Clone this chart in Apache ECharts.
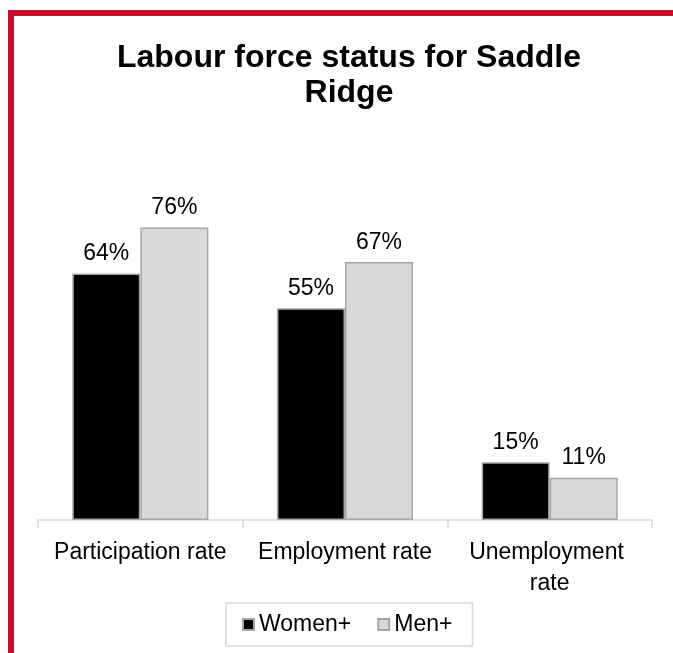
<!DOCTYPE html>
<html>
<head>
<meta charset="utf-8">
<script src="https://cdn.jsdelivr.net/npm/echarts@6/dist/echarts.min.js"></script>
<style>
html,body{margin:0;padding:0;background:#fff;}
#chart{width:673px;height:653px;}
</style>
</head>
<body>
<div id="chart"></div>
<script>
const titleText = 'Labour force status for Saddle\nRidge';
const categories = ['Participation rate', 'Employment rate', 'Unemployment rate'];
const seriesNames = ['Women+', 'Men+'];
const women = [64, 55, 15];
const men = [76, 67, 11];

const chart = echarts.init(document.getElementById('chart'), null, {renderer: 'canvas'});
const font = 'Liberation Sans, Arial, sans-serif';
const barBorder = '#a6a6a6';
const labelStyle = {
  show: true, position: 'top', distance: 8,
  formatter: p => p.value + '%',
  fontFamily: font, fontSize: 23, color: '#000'
};
chart.setOption({
  animation: false,
  backgroundColor: '#fff',
  title: {
    text: titleText,
    left: 344, top: 36, textAlign: 'center',
    textStyle: {fontFamily: font, fontSize: 32, fontWeight: 'bold', color: '#000', lineHeight: 35}
  },
  graphic: [
    {type: 'rect', shape: {x: 8, y: 10, width: 700, height: 6}, style: {fill: '#c8102e'}, silent: true},
    {type: 'rect', shape: {x: 8, y: 10, width: 6, height: 700}, style: {fill: '#c8102e'}, silent: true}
  ],
  legend: {
    data: seriesNames,
    left: 226, top: 603,
    padding: [10, 20, 10, 16],
    borderColor: '#d9d9d9', borderWidth: 1.5,
    icon: 'rect', itemWidth: 11, itemHeight: 11, itemGap: 26,
    textStyle: {fontFamily: font, fontSize: 23, color: '#000'}
  },
  grid: {left: 38, right: 21, top: 135, bottom: 133, containLabel: false},
  xAxis: {
    type: 'category', data: categories,
    axisLine: {lineStyle: {color: '#d9d9d9', width: 1.5}},
    axisTick: {show: true, length: 8, lineStyle: {color: '#d9d9d9', width: 1.5}},
    axisLabel: {
      fontFamily: font, fontSize: 23, color: '#000', margin: 17,
      width: 190, overflow: 'break', lineHeight: 31, interval: 0
    }
  },
  yAxis: {
    type: 'value', min: 0, max: 100, show: false, splitLine: {show: false}
  },
  series: [
    {
      name: seriesNames[0], type: 'bar', data: women,
      barGap: '0%', barCategoryGap: '33.5%',
      itemStyle: {color: '#000', borderColor: barBorder, borderWidth: 1.5},
      label: labelStyle
    },
    {
      name: seriesNames[1], type: 'bar', data: men,
      itemStyle: {color: '#d9d9d9', borderColor: barBorder, borderWidth: 1.5},
      label: labelStyle
    }
  ]
});
</script>
</body>
</html>
